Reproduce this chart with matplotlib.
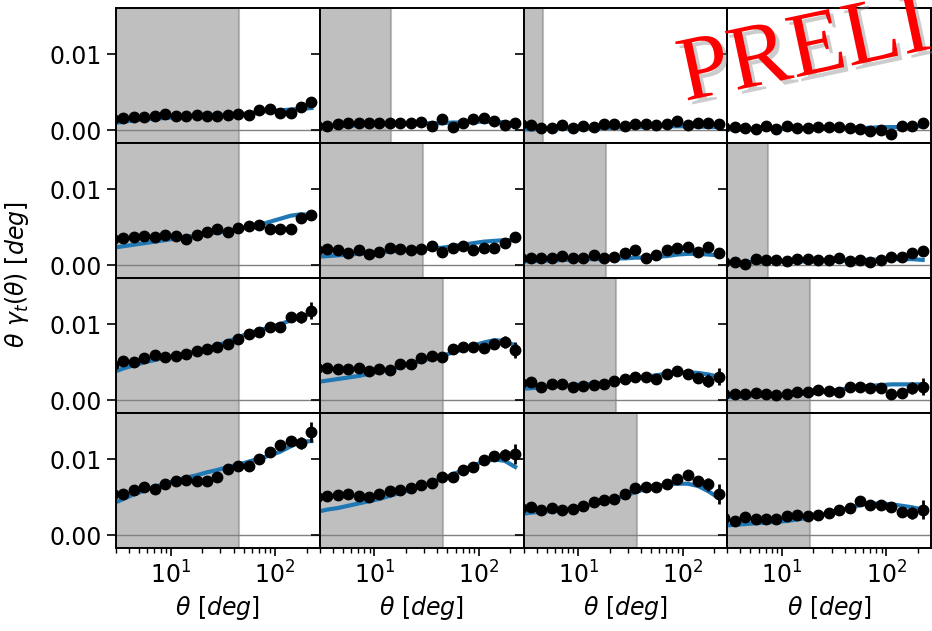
import numpy as np
import matplotlib
matplotlib.use("Agg")
import matplotlib.pyplot as plt
import matplotlib.patheffects as pe

# ______________________________________________________________________________
# Donnees : theta (centres des bins) et theta*gamma_t par panneau (ligne, colonne)

theta = [2.81, 3.53, 4.45, 5.60, 7.05, 8.87, 11.17, 14.06, 17.70, 22.28,
         28.05, 35.31, 44.46, 55.97, 70.46, 88.70, 111.7, 140.6, 177.0, 222.8]

data = {}
data[0, 0] = [0.0015, 0.0016, 0.0017, 0.0017, 0.0019, 0.0021, 0.0019, 0.0019, 0.0020, 0.0019,
              0.0018, 0.0020, 0.0021, 0.0020, 0.0026, 0.0028, 0.0023, 0.0023, 0.0031, 0.0037]
data[0, 1] = [0.0006, 0.0005, 0.0008, 0.0010, 0.0009, 0.0010, 0.0010, 0.0010, 0.0010, 0.0010,
              0.0011, 0.0005, 0.0014, 0.0004, 0.0010, 0.0015, 0.0016, 0.0012, 0.0007, 0.0010]
data[0, 2] = [0.0008, 0.0007, 0.0003, 0.0003, 0.0007, 0.0003, 0.0005, 0.0004, 0.0008, 0.0008,
              0.0005, 0.0008, 0.0008, 0.0007, 0.0008, 0.0012, 0.0007, 0.0009, 0.0009, 0.0008]
data[0, 3] = [0.0004, 0.0004, 0.0003, 0.0002, 0.0006, 0.0002, 0.0005, 0.0003, 0.0003, 0.0004,
              0.0004, 0.0004, 0.0003, 0.0001, -0.0001, 0.0000, -0.0005, 0.0006, 0.0006, 0.0009]
data[1, 0] = [0.0034, 0.0036, 0.0037, 0.0039, 0.0037, 0.0040, 0.0038, 0.0035, 0.0040, 0.0044,
              0.0047, 0.0044, 0.0049, 0.0051, 0.0053, 0.0048, 0.0048, 0.0047, 0.0062, 0.0066]
data[1, 1] = [0.0020, 0.0021, 0.0020, 0.0016, 0.0020, 0.0015, 0.0017, 0.0023, 0.0021, 0.0020,
              0.0021, 0.0025, 0.0018, 0.0023, 0.0025, 0.0020, 0.0023, 0.0022, 0.0029, 0.0037]
data[1, 2] = [0.0010, 0.0010, 0.0010, 0.0010, 0.0012, 0.0010, 0.0009, 0.0014, 0.0010, 0.0011,
              0.0016, 0.0020, 0.0009, 0.0013, 0.0020, 0.0022, 0.0024, 0.0017, 0.0024, 0.0016]
data[1, 3] = [0.0004, 0.0004, 0.0001, 0.0008, 0.0007, 0.0007, 0.0005, 0.0008, 0.0008, 0.0007,
              0.0007, 0.0010, 0.0005, 0.0007, 0.0004, 0.0007, 0.0011, 0.0011, 0.0016, 0.0019]
data[2, 0] = [0.0047, 0.0052, 0.0050, 0.0056, 0.0059, 0.0057, 0.0058, 0.0061, 0.0065, 0.0067,
              0.0070, 0.0074, 0.0081, 0.0087, 0.0090, 0.0096, 0.0097, 0.0109, 0.0110, 0.0118]
data[2, 1] = [0.0043, 0.0043, 0.0041, 0.0041, 0.0042, 0.0038, 0.0041, 0.0040, 0.0048, 0.0048,
              0.0055, 0.0058, 0.0057, 0.0067, 0.0070, 0.0070, 0.0069, 0.0074, 0.0077, 0.0066]
data[2, 2] = [0.0023, 0.0024, 0.0018, 0.0021, 0.0022, 0.0018, 0.0019, 0.0020, 0.0022, 0.0026,
              0.0028, 0.0031, 0.0031, 0.0028, 0.0035, 0.0039, 0.0035, 0.0030, 0.0026, 0.0031]
data[2, 3] = [0.0009, 0.0009, 0.0009, 0.0010, 0.0009, 0.0007, 0.0008, 0.0011, 0.0011, 0.0013,
              0.0012, 0.0011, 0.0017, 0.0017, 0.0016, 0.0016, 0.0008, 0.0010, 0.0016, 0.0018]
data[3, 0] = [0.0054, 0.0054, 0.0060, 0.0064, 0.0061, 0.0067, 0.0071, 0.0073, 0.0072, 0.0072,
              0.0077, 0.0087, 0.0091, 0.0091, 0.0100, 0.0109, 0.0119, 0.0124, 0.0122, 0.0136]
data[3, 1] = [0.0051, 0.0052, 0.0053, 0.0055, 0.0052, 0.0051, 0.0054, 0.0058, 0.0060, 0.0062,
              0.0066, 0.0069, 0.0077, 0.0077, 0.0086, 0.0090, 0.0099, 0.0104, 0.0106, 0.0107]
data[3, 2] = [0.0036, 0.0038, 0.0034, 0.0036, 0.0033, 0.0035, 0.0039, 0.0044, 0.0046, 0.0048,
              0.0054, 0.0062, 0.0064, 0.0064, 0.0067, 0.0074, 0.0080, 0.0072, 0.0067, 0.0054]
data[3, 3] = [0.0023, 0.0019, 0.0024, 0.0022, 0.0021, 0.0022, 0.0026, 0.0027, 0.0025, 0.0027,
              0.0030, 0.0034, 0.0036, 0.0045, 0.0040, 0.0040, 0.0037, 0.0031, 0.0029, 0.0034]

# Modele (courbe bleue) aux memes theta
model = {}
model[0, 0] = [0.0009, 0.0011, 0.0013, 0.0014, 0.0015, 0.0016, 0.0017, 0.0018, 0.0019, 0.0019,
               0.0020, 0.0020, 0.0021, 0.0022, 0.0024, 0.0025, 0.0026, 0.0027, 0.0028, 0.0029]
model[0, 1] = [0.0004, 0.0005, 0.0005, 0.0006, 0.0006, 0.0007, 0.0007, 0.0008, 0.0008, 0.0008,
               0.0009, 0.0009, 0.0009, 0.0010, 0.0010, 0.0011, 0.0011, 0.0011, 0.0010, 0.0009]
model[0, 2] = [0.0001, 0.0001, 0.0001, 0.0002, 0.0002, 0.0002, 0.0002, 0.0003, 0.0003, 0.0003,
               0.0004, 0.0004, 0.0004, 0.0005, 0.0005, 0.0005, 0.0005, 0.0005, 0.0004, 0.0004]
model[0, 3] = [0.0001, 0.0001, 0.0001, 0.0001, 0.0002, 0.0002, 0.0002, 0.0002, 0.0002, 0.0002,
               0.0002, 0.0002, 0.0003, 0.0003, 0.0003, 0.0004, 0.0004, 0.0004, 0.0005, 0.0005]
model[1, 0] = [0.0023, 0.0025, 0.0027, 0.0029, 0.0031, 0.0033, 0.0035, 0.0037, 0.0039, 0.0041,
               0.0043, 0.0045, 0.0047, 0.0050, 0.0053, 0.0057, 0.0061, 0.0065, 0.0067, 0.0066]
model[1, 1] = [0.0011, 0.0012, 0.0013, 0.0014, 0.0015, 0.0016, 0.0017, 0.0018, 0.0019, 0.0020,
               0.0021, 0.0022, 0.0023, 0.0025, 0.0027, 0.0029, 0.0031, 0.0032, 0.0033, 0.0033]
model[1, 2] = [0.0005, 0.0005, 0.0006, 0.0006, 0.0007, 0.0007, 0.0008, 0.0008, 0.0008, 0.0009,
               0.0009, 0.0010, 0.0010, 0.0011, 0.0012, 0.0014, 0.0015, 0.0015, 0.0014, 0.0013]
model[1, 3] = [0.0003, 0.0003, 0.0004, 0.0004, 0.0004, 0.0005, 0.0005, 0.0005, 0.0005, 0.0006,
               0.0006, 0.0006, 0.0006, 0.0007, 0.0007, 0.0008, 0.0008, 0.0008, 0.0008, 0.0007]
model[2, 0] = [0.0037, 0.0042, 0.0046, 0.0050, 0.0053, 0.0056, 0.0059, 0.0062, 0.0065, 0.0068,
               0.0072, 0.0077, 0.0083, 0.0088, 0.0092, 0.0096, 0.0100, 0.0105, 0.0110, 0.0114]
model[2, 1] = [0.0024, 0.0026, 0.0028, 0.0030, 0.0032, 0.0035, 0.0038, 0.0041, 0.0044, 0.0048,
               0.0052, 0.0055, 0.0058, 0.0063, 0.0067, 0.0072, 0.0076, 0.0079, 0.0078, 0.0072]
model[2, 2] = [0.0015, 0.0016, 0.0017, 0.0018, 0.0019, 0.0020, 0.0021, 0.0022, 0.0023, 0.0025,
               0.0027, 0.0029, 0.0031, 0.0033, 0.0035, 0.0037, 0.0037, 0.0036, 0.0034, 0.0031]
model[2, 3] = [0.0004, 0.0005, 0.0005, 0.0006, 0.0006, 0.0007, 0.0007, 0.0008, 0.0009, 0.0010,
               0.0012, 0.0014, 0.0016, 0.0018, 0.0019, 0.0020, 0.0021, 0.0021, 0.0021, 0.0021]
model[3, 0] = [0.0042, 0.0048, 0.0054, 0.0059, 0.0064, 0.0068, 0.0072, 0.0076, 0.0079, 0.0083,
               0.0086, 0.0090, 0.0093, 0.0097, 0.0101, 0.0105, 0.0110, 0.0117, 0.0123, 0.0124]
model[3, 1] = [0.0031, 0.0034, 0.0036, 0.0039, 0.0042, 0.0045, 0.0048, 0.0052, 0.0056, 0.0060,
               0.0065, 0.0070, 0.0075, 0.0080, 0.0086, 0.0092, 0.0097, 0.0100, 0.0098, 0.0090]
model[3, 2] = [0.0028, 0.0030, 0.0031, 0.0032, 0.0034, 0.0036, 0.0038, 0.0041, 0.0044, 0.0048,
               0.0052, 0.0057, 0.0061, 0.0065, 0.0067, 0.0068, 0.0068, 0.0065, 0.0058, 0.0049]
model[3, 3] = [0.0013, 0.0014, 0.0015, 0.0016, 0.0017, 0.0018, 0.0019, 0.0021, 0.0023, 0.0026,
               0.0029, 0.0033, 0.0036, 0.0040, 0.0042, 0.0042, 0.0041, 0.0039, 0.0037, 0.0034]

# Barres d'erreur (une liste par ligne)
errors = [
    [0.0002, 0.0002, 0.0002, 0.0002, 0.0002, 0.0002, 0.0002, 0.0002, 0.0002, 0.0002,
     0.0002, 0.0002, 0.0002, 0.0002, 0.0002, 0.0002, 0.0003, 0.0003, 0.0003, 0.0004],
    [0.0002, 0.0002, 0.0002, 0.0002, 0.0002, 0.0002, 0.0002, 0.0002, 0.0002, 0.0002,
     0.0002, 0.0002, 0.0002, 0.0003, 0.0003, 0.0004, 0.0004, 0.0005, 0.0005, 0.0006],
    [0.0002, 0.0002, 0.0002, 0.0002, 0.0002, 0.0002, 0.0002, 0.0002, 0.0002, 0.0002,
     0.0002, 0.0002, 0.0003, 0.0003, 0.0004, 0.0004, 0.0005, 0.0006, 0.0008, 0.0011],
    [0.0002, 0.0002, 0.0002, 0.0002, 0.0002, 0.0002, 0.0002, 0.0002, 0.0002, 0.0002,
     0.0002, 0.0002, 0.0003, 0.0003, 0.0004, 0.0005, 0.0006, 0.0006, 0.0008, 0.0013],
]

# Coupures en echelle (zone grisee exclue)
cuts = [
    [45.4, 14.5, 4.6, 2.5],
    [45.4, 29.2, 18.5, 7.4],
    [45.4, 45.4, 23.2, 18.5],
    [45.4, 45.4, 36.5, 18.5],
]

# ______________________________________________________________________________
# RCParams

plt.rcParams['font.size'] = 17
plt.rcParams['xtick.major.size'] = 6
plt.rcParams['ytick.major.size'] = 6.5
plt.rcParams['xtick.minor.size'] = 3.5
plt.rcParams['xtick.major.width'] = 1.2
plt.rcParams['ytick.major.width'] = 1.2
plt.rcParams['xtick.minor.width'] = 1.0
plt.rcParams['axes.linewidth'] = 1.4

# ______________________________________________________________________________
# Figure

fig, axes = plt.subplots(4, 4, sharex=True, sharey=True, figsize=(9.32, 6.31), dpi=100)
fig.subplots_adjust(left=0.1245, right=0.999, top=0.988, bottom=0.1315, wspace=0, hspace=0)

for i in range(4):
    for j in range(4):
        ax = axes[i, j]
        ax.axvspan(1.0, cuts[i][j], color='gray', alpha=0.5, lw=1.5, zorder=0)
        ax.axhline(0, color='gray', lw=1.0, zorder=1)
        ax.plot(theta, model[i, j], color='#1f77b4', lw=3, zorder=2)
        ax.errorbar(theta, data[i, j], yerr=errors[i], fmt='o', color='k',
                    ms=7.5, elinewidth=2, capsize=0, zorder=3)
        ax.set_xscale('log')

axes[0, 0].set_xlim(3.0, 268)
axes[0, 0].set_ylim(-0.00165, 0.0161)
axes[0, 0].set_yticks([0.0, 0.01])
axes[0, 0].set_yticklabels(['0.00', '0.01'])

for j in range(4):
    axes[3, j].set_xlabel(r'$\theta\ [deg]$')

fig.text(0.018, 0.565, r'$\theta\ \gamma_t(\theta)\ [deg]$', rotation=90,
         ha='center', va='center', fontsize=17)

fig.text(0.735, 0.840, 'PRELIMINARY', rotation=12, rotation_mode='anchor',
         ha='left', va='baseline', fontsize=66, color='red', family='Liberation Serif',
         path_effects=[pe.withSimplePatchShadow(offset=(3, -3), shadow_rgbFace='gray', alpha=0.4)])

fig.savefig('out.png', dpi=100)
